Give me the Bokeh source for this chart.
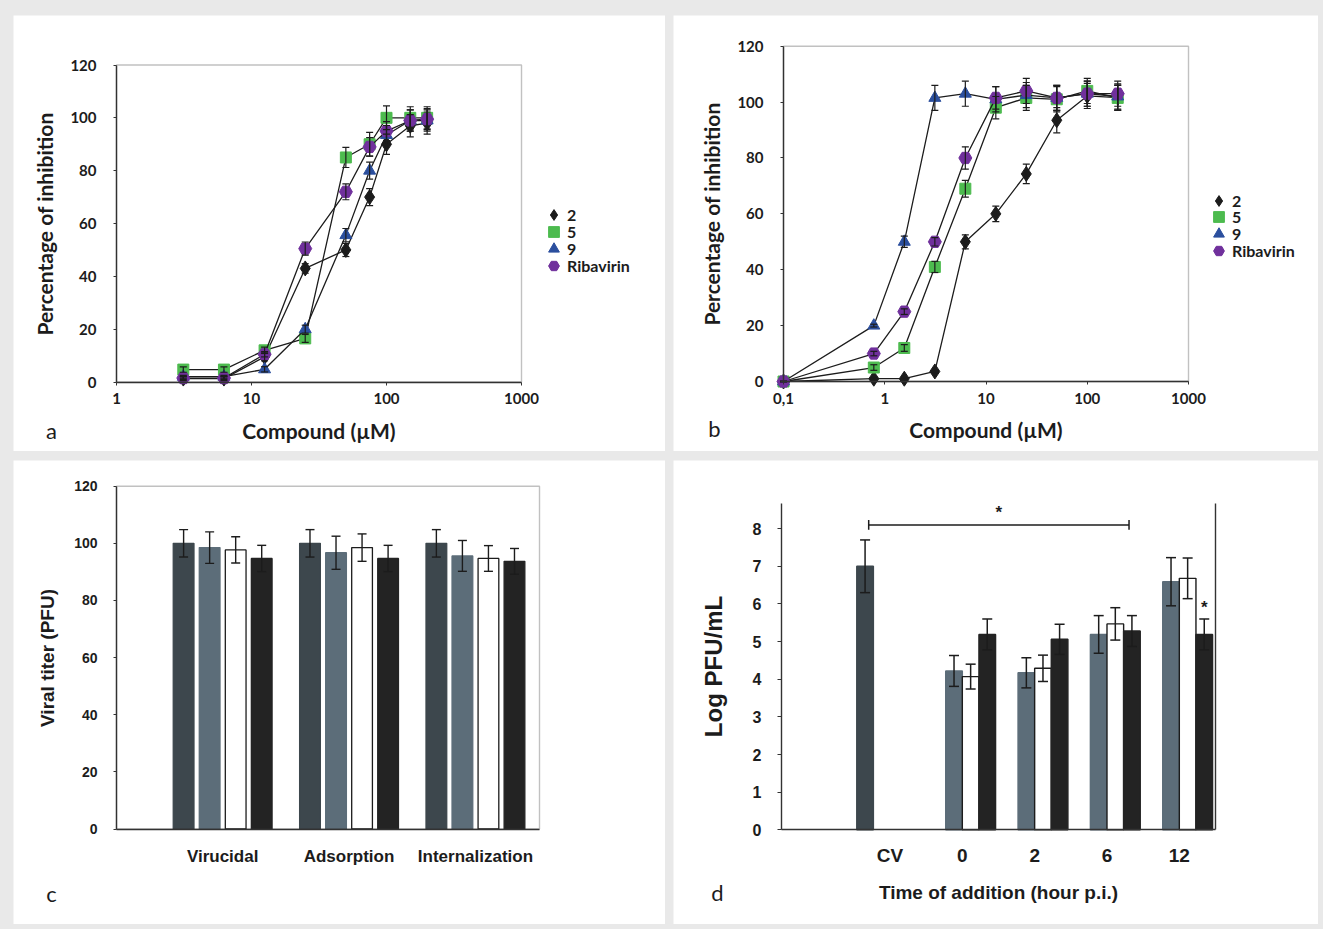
import math
import numpy as np
from bokeh.plotting import figure
from bokeh.models import (ColumnDataSource, Whisker, TeeHead, Legend, LegendItem, Label,
                          FixedTicker, LinearAxis, CustomJSTickFormatter, BoxAnnotation)
from bokeh.layouts import row, column
from bokeh.embed import file_html
from bokeh.resources import INLINE

# ---------------- data ----------------
# panel a : compound concentration (uM) vs % inhibition
conc_a = [3.125, 6.25, 12.5, 25, 50, 75, 100, 150, 200]
a_c2 = [1.3, 1.3, 9.5, 43, 50, 70, 90, 97, 98]
a_c2_err = [0.8, 0.8, 1.5, 1.8, 2.5, 3.2, 3.8, 4.2, 4.2]
a_c5 = [4.7, 4.7, 12, 16.5, 85, 90, 100, 100, 100]
a_c5_err = [1.0, 1.0, 1.2, 1.5, 3.8, 4.5, 4.5, 4.2, 4.2]
a_c9 = [2, 2, 4.8, 20, 55.6, 80, 93.5, 99, 99]
a_c9_err = [0.5, 0.5, 1.0, 1.5, 2.5, 3.2, 3.6, 4.0, 4.0]
a_rib = [1.5, 1.5, 10.5, 50.5, 72, 89, 95, 99, 99.5]
a_rib_err = [0.5, 0.5, 1.0, 2.5, 3.0, 3.5, 3.6, 4.0, 4.0]

# panel b
conc_b = [0.1, 0.78, 1.56, 3.125, 6.25, 12.5, 25, 50, 100, 200]
b_c2 = [0, 1, 1, 3.6, 50, 60, 74.3, 93.5, 102.2, 101.6]
b_c2_err = [0, 0.3, 0.3, 0.5, 2.5, 2.8, 3.5, 4.5, 4.5, 4.5]
b_c5 = [0, 5, 12, 41, 69, 98, 101.5, 101, 104, 101.5]
b_c5_err = [0, 1.0, 1.2, 2.0, 3.0, 4.0, 4.5, 4.5, 4.5, 4.5]
b_c9 = [0, 20, 50, 101.5, 103, 101, 102.5, 101.5, 103, 102]
b_c9_err = [0, 0.5, 2.0, 4.5, 4.5, 4.5, 4.5, 4.5, 4.5, 4.5]
b_rib = [0, 10, 25, 50, 80, 101.5, 104, 101.5, 103, 103]
b_rib_err = [0, 0.8, 1.0, 1.5, 4.0, 4.0, 4.5, 4.5, 4.5, 4.5]

series_names = ["2", "5", "9", "Ribavirin"]

# panel c
cats_c = ["Virucidal", "Adsorption", "Internalization"]
c_s1 = [100, 100, 100]
c_s1_err = [4.8, 4.8, 4.8]
c_s2 = [98.5, 96.7, 95.6]
c_s2_err = [5.5, 5.8, 5.4]
c_s3 = [97.7, 98.5, 94.7]
c_s3_err = [4.6, 4.8, 4.5]
c_s4 = [94.7, 94.7, 93.7]
c_s4_err = [4.6, 4.6, 4.5]

# panel d
cats_d = ["", "CV", "0", "2", "6", "12"]
d_cv = [7.0]
d_cv_err = [0.7]
d_gray = [4.22, 4.17, 5.19, 6.59]
d_gray_err = [0.41, 0.40, 0.50, 0.64]
d_white = [4.07, 4.29, 5.47, 6.68]
d_white_err = [0.33, 0.35, 0.43, 0.54]
d_black = [5.19, 5.06, 5.28, 5.19]
d_black_err = [0.41, 0.40, 0.41, 0.41]

# ---------------- styles ----------------
CAL = "Lato"
ARI = "Liberation Sans"
INK = "#1c1c1c"
LINE = "#333333"
GREEN = "#4dbb4f"
BLUE = "#2b4f9e"
PURPLE = "#70309c"
DARK = "#3d474d"
SLATE = "#5c6d79"
BLACKBAR = "#232323"
BG = "#e9e9e9"


def extend(p0, p1, v0, v1, e0, e1, log=False):
    """Range values at the panel edges e0/e1 (pixels) given axis box p0->v0, p1->v1."""
    if log:
        v0, v1 = math.log10(v0), math.log10(v1)
    k = (v1 - v0) / (p1 - p0)
    a, b = v0 + (e0 - p0) * k, v0 + (e1 - p0) * k
    if log:
        a, b = 10 ** a, 10 ** b
    return a, b


def panel_fig(w, h, xr, yr, **kw):
    p = figure(width=w, height=h, output_backend="svg", toolbar_location=None,
               min_border=0, x_range=xr, y_range=yr,
               background_fill_color="white", border_fill_color="white", **kw)
    p.grid.visible = False
    p.outline_line_color = None
    for ax in p.axis:
        ax.axis_line_color = LINE
        ax.axis_line_width = 1.4
        ax.major_tick_line_color = LINE
        ax.minor_tick_line_color = None
        ax.major_label_text_color = INK
        ax.axis_label_text_color = INK
        ax.axis_label_text_font_style = "bold"
        ax.major_label_text_font_style = "bold"
    return p


def box(p, l, r, b, t):
    p.add_layout(BoxAnnotation(left=l, right=r, bottom=b, top=t, fill_alpha=0,
                               line_color=LINE, line_width=1.4, level="overlay"))


def whisk(p, src, base, lo, hi, size, lw=1.3):
    w = Whisker(source=src, base=base, lower=lo, upper=hi, line_color=INK, line_width=lw,
                upper_head=TeeHead(size=size, line_color=INK, line_width=lw),
                lower_head=TeeHead(size=size, line_color=INK, line_width=lw),
                level="glyph")
    p.add_layout(w)


def letter(p, txt, x, y):
    p.add_layout(Label(x=x, y=y, x_units="screen", y_units="screen", text=txt,
                       text_font=CAL, text_font_size="22px", text_color=INK,
                       text_align="center", text_baseline="middle"))


def curve_panel(xs, sets, xmin, leg_x, leg_y0, leg_step, w, h, fx0, fy0, bx0, bx1, by0, by1):
    xr = extend(bx0, bx1, xmin, 1000, fx0, fx0 + w, log=True)
    yr = extend(by0, by1, 0, 120, fy0 + h, fy0)
    p = panel_fig(w, h, xr, yr, x_axis_type="log")
    p.xaxis.fixed_location = 0
    p.xaxis.bounds = (xmin, 1000)
    p.yaxis.fixed_location = xmin
    p.yaxis.bounds = (0, 120)
    box(p, xmin, 1000, 0, 120)
    p.xaxis.ticker = FixedTicker(ticks=[t_ for t_ in [0.1, 1, 10, 100, 1000] if t_ >= xmin])
    p.xaxis.formatter = CustomJSTickFormatter(code="return String(tick).replace('.', ',');")
    p.yaxis.ticker = FixedTicker(ticks=[0, 20, 40, 60, 80, 100, 120])
    for ax in p.axis:
        ax.major_label_text_font = CAL
        ax.major_label_text_font_size = "15px"
        ax.axis_label_text_font = CAL
        ax.axis_label_text_font_size = "21px"
        ax.major_tick_out = 3
        ax.major_tick_in = 0
    p.yaxis.major_label_standoff = 17
    p.yaxis.axis_label_standoff = 10
    p.xaxis.major_label_standoff = 8
    p.xaxis.axis_label_standoff = 10
    p.yaxis.axis_label = "Percentage of inhibition"
    p.xaxis.axis_label = "Compound (\u00b5M)"
    for i, ((ys, es, marker, color, size), name) in enumerate(zip(sets, series_names)):
        ys = np.array(ys, float)
        es = np.array(es, float)
        src = ColumnDataSource(dict(x=xs, y=ys, lo=ys - es, hi=ys + es))
        p.line("x", "y", source=src, line_color=INK, line_width=1.3)
        rr = p.scatter("x", "y", source=src, marker=marker, size=size,
                       fill_color=color, line_color=color)
        whisk(p, src, "x", "lo", "hi", 7, 1.2)
        # one legend per entry so the entries can sit closer than the key size
        lg = Legend(items=[LegendItem(label=name, renderers=[rr])],
                    location=(leg_x, leg_y0 - i * leg_step), padding=0, margin=0, spacing=0,
                    glyph_width=27, glyph_height=27, label_height=27, label_standoff=0,
                    label_text_font=CAL, label_text_font_size="16px",
                    label_text_font_style="bold", label_text_color=INK,
                    border_line_color=None, background_fill_alpha=0)
        p.add_layout(lg, "center")
    return p


# ---------------- panel a ----------------
sets_a = [(a_c2, a_c2_err, "diamond", INK, 15),
          (a_c5, a_c5_err, "square", GREEN, 11),
          (a_c9, a_c9_err, "triangle", BLUE, 12),
          (a_rib, a_rib_err, "hex", PURPLE, 13)]
pa = curve_panel(conc_a, sets_a, 1, 527, 223.5, 17.3, 652, 436, 13, 15, 116, 521, 381.5, 64.5)
letter(pa, "a", 38, 21)

# ---------------- panel b ----------------
sets_b = [(b_c2, b_c2_err, "diamond", INK, 15),
          (b_c5, b_c5_err, "square", GREEN, 11),
          (b_c9, b_c9_err, "triangle", BLUE, 12),
          (b_rib, b_rib_err, "hex", PURPLE, 13)]
pb = curve_panel(conc_b, sets_b, 0.1, 532, 237.5, 16.9, 645, 436, 673, 15, 783, 1188, 381, 45.7)
letter(pb, "b", 41, 23)

# ---------------- panel c ----------------
c_xlim = (0.16, 3.507)
c_ylim = (0, 120)
pc = panel_fig(652, 464, extend(116, 539, c_xlim[0], c_xlim[1], 13, 665),
               extend(828.5, 485.7, c_ylim[0], c_ylim[1], 924, 460))
pc.xaxis.fixed_location = 0
pc.xaxis.bounds = c_xlim
pc.yaxis.fixed_location = c_xlim[0]
pc.yaxis.bounds = c_ylim
box(pc, c_xlim[0], c_xlim[1], c_ylim[0], c_ylim[1])
pc.yaxis.ticker = FixedTicker(ticks=[0, 20, 40, 60, 80, 100, 120])
pc.xaxis.ticker = FixedTicker(ticks=[1, 2, 3])
pc.xaxis.major_label_overrides = {1: cats_c[0], 2: cats_c[1], 3: cats_c[2]}
for ax in pc.axis:
    ax.major_label_text_font = ARI
    ax.axis_label_text_font = ARI
pc.yaxis.major_label_text_font_size = "14px"
pc.xaxis.major_label_text_font_size = "17px"
pc.yaxis.major_tick_out = 3
pc.yaxis.major_tick_in = 0
pc.yaxis.major_label_standoff = 16
pc.xaxis.major_tick_out = 0
pc.xaxis.major_tick_in = 0
pc.xaxis.major_label_standoff = 18
pc.yaxis.axis_label = "Viral titer (PFU)"
pc.yaxis.axis_label_text_font_size = "19px"
pc.yaxis.axis_label_standoff = 13
grp_c = np.arange(1, len(cats_c) + 1, dtype=float)
wc = 0.164
offs_c = np.array([-1.5, -0.5, 0.5, 1.5]) * 0.206
c_sets = [(c_s1, c_s1_err, DARK, DARK), (c_s2, c_s2_err, SLATE, SLATE),
          (c_s3, c_s3_err, "white", INK), (c_s4, c_s4_err, BLACKBAR, BLACKBAR)]
for (vals, errs, fc, lc), off in zip(c_sets, offs_c):
    v = np.array(vals, float)
    e = np.array(errs, float)
    src = ColumnDataSource(dict(x=grp_c + off, top=v, lo=v - e, hi=v + e))
    pc.vbar(x="x", top="top", width=wc, bottom=0, source=src, fill_color=fc, line_color=lc,
            line_width=1.3)
    whisk(pc, src, "x", "lo", "hi", 9, 1.4)
letter(pc, "c", 38, 31)

# ---------------- panel d ----------------
d_xlim = (-0.5, 5.5)
d_ylim = (0, 8.66)
pd_ = panel_fig(645, 464, extend(781, 1215, d_xlim[0], d_xlim[1], 673, 1318),
                extend(829.3, 503.3, d_ylim[0], d_ylim[1], 924, 460))
pd_.xaxis.fixed_location = 0
pd_.xaxis.bounds = d_xlim
pd_.yaxis.fixed_location = d_xlim[0]
pd_.yaxis.bounds = d_ylim
pd_.add_layout(LinearAxis(fixed_location=d_xlim[1], bounds=d_ylim, major_tick_in=0,
                          major_tick_out=0, minor_tick_line_color=None,
                          major_label_text_font_size="0px", axis_line_color=LINE,
                          axis_line_width=1.4, ticker=FixedTicker(ticks=[])), "right")
pd_.yaxis[0].ticker = FixedTicker(ticks=list(range(0, 9)))
pd_.xaxis.ticker = FixedTicker(ticks=[1, 2, 3, 4, 5])
pd_.xaxis.major_label_overrides = {i: cats_d[i] for i in range(1, 6)}
for ax in pd_.axis:
    ax.major_label_text_font = ARI
    ax.axis_label_text_font = ARI
pd_.yaxis[0].major_label_text_font_size = "16px"
pd_.yaxis[0].major_tick_out = 4
pd_.yaxis[0].major_tick_in = 0
pd_.yaxis[0].major_label_standoff = 16
pd_.yaxis[0].axis_label = "Log PFU/mL"
pd_.yaxis[0].axis_label_text_font_size = "24px"
pd_.yaxis[0].axis_label_standoff = 23
pd_.xaxis.major_label_text_font_size = "19px"
pd_.xaxis.major_tick_out = 0
pd_.xaxis.major_tick_in = 0
pd_.xaxis.major_label_standoff = 15
pd_.xaxis.axis_label = "Time of addition (hour p.i.)"
pd_.xaxis.axis_label_text_font_size = "19px"
pd_.xaxis.axis_label_standoff = 13

wd = 0.23
offs_d = np.array([-1.5, -0.5, 0.5, 1.5]) * 0.2297
grp_d = np.arange(2, len(cats_d), dtype=float)
cv_x = np.array([1.0]) + offs_d[0]
d_sets = [(cv_x, d_cv, d_cv_err, DARK, DARK),
          (grp_d + offs_d[1], d_gray, d_gray_err, SLATE, SLATE),
          (grp_d + offs_d[2], d_white, d_white_err, "white", INK),
          (grp_d + offs_d[3], d_black, d_black_err, BLACKBAR, BLACKBAR)]
for xs, vals, errs, fc, lc in d_sets:
    v = np.array(vals, float)
    e = np.array(errs, float)
    src = ColumnDataSource(dict(x=xs, top=v, lo=v - e, hi=v + e))
    pd_.vbar(x="x", top="top", width=wd, bottom=0, source=src, fill_color=fc, line_color=lc,
             line_width=1.4)
    whisk(pd_, src, "x", "lo", "hi", 10, 1.5)

# significance bracket from the CV bar to the black bar at 6 h
br_x0 = cv_x[0] + 0.05
br_x1 = (grp_d + offs_d[3])[2] - 0.04
br_y = 8.1
pd_.segment(x0=[br_x0, br_x0, br_x1], y0=[br_y, br_y - 0.13, br_y - 0.13],
            x1=[br_x1, br_x0, br_x1], y1=[br_y, br_y + 0.13, br_y + 0.13],
            line_color=INK, line_width=1.5)
pd_.add_layout(Label(x=(br_x0 + br_x1) / 2, y=8.42, text="*", text_font=ARI,
                     text_font_size="17px", text_font_style="bold", text_color=INK,
                     text_align="center", text_baseline="middle"))
bx = (grp_d + offs_d[3])[3]
pd_.add_layout(Label(x=bx, y=5.9, text="*", text_font=ARI,
                     text_font_size="17px", text_font_style="bold", text_color=INK,
                     text_align="center", text_baseline="middle"))
letter(pd_, "d", 44, 32)

layout = column(row(pa, pb, spacing=8), row(pc, pd_, spacing=8), spacing=9,
                styles={"background-color": BG, "padding": "15px 5px 5px 13px"})

open("out.html", "w").write(file_html(layout, INLINE, title="figure"))
